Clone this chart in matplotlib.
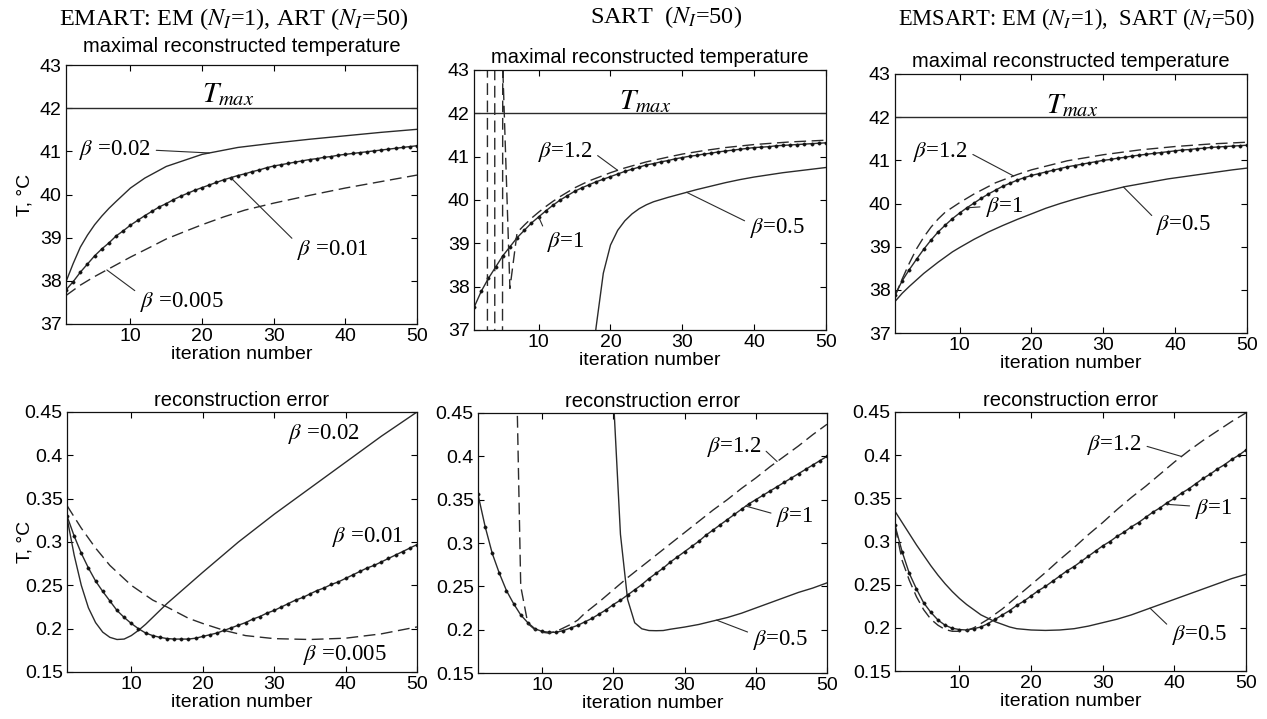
import numpy as np
import matplotlib
matplotlib.use("Agg")
import matplotlib.pyplot as plt

plt.rcParams['font.family'] = ['Liberation Sans', 'DejaVu Sans']
plt.rcParams['mathtext.fontset'] = 'stix'

# ---------------- data ----------------
it = np.arange(1, 51)
x_ticks = [10, 20, 30, 40, 50]
t_ticks = [37, 38, 39, 40, 41, 42, 43]
e_ticks = [0.15, 0.2, 0.25, 0.3, 0.35, 0.4, 0.45]
e_ticklabels = ['0.15', '0.2', '0.25', '0.3', '0.35', '0.4', '0.45']
T_max = 42

col_titles = ['EMART: EM ($N_I$=1), ART ($N_I$=50)',
              'SART  ($N_I$=50)',
              'EMSART: EM ($N_I$=1),  SART ($N_I$=50)']
top_title = 'maximal reconstructed temperature'
bot_title = 'reconstruction error'

# EMART, max temperature
tl_b001 = [37.79, 37.98, 38.20, 38.39, 38.58, 38.74, 38.88, 39.04, 39.16, 39.29,
           39.40, 39.51, 39.61, 39.71, 39.79, 39.88, 39.96, 40.03, 40.10, 40.16,
           40.22, 40.28, 40.34, 40.39, 40.44, 40.48, 40.53, 40.57, 40.62, 40.66,
           40.69, 40.72, 40.75, 40.78, 40.81, 40.83, 40.86, 40.88, 40.91, 40.93,
           40.95, 40.97, 40.99, 41.01, 41.03, 41.05, 41.07, 41.09, 41.11, 41.13]
tl_b002_x = [1, 2, 3, 4, 5, 6, 7, 8, 10, 12, 15, 20, 25, 30, 35, 40, 45, 50]
tl_b002 = [37.98, 38.40, 38.78, 39.06, 39.30, 39.50, 39.68, 39.84, 40.15, 40.38,
           40.65, 40.93, 41.09, 41.19, 41.28, 41.36, 41.44, 41.51]
tl_b0005_x = [1, 3, 5, 7, 10, 13, 15, 18, 20, 23, 26, 30, 35, 40, 45, 50]
tl_b0005 = [37.66, 37.90, 38.10, 38.28, 38.55, 38.80, 38.97, 39.17, 39.30, 39.48,
            39.64, 39.80, 39.98, 40.15, 40.30, 40.45]

# SART, max temperature
tm_b1 = [37.52, 37.89, 38.19, 38.45, 38.71, 38.92, 39.13, 39.30, 39.47, 39.61,
         39.75, 39.88, 40.00, 40.10, 40.20, 40.28, 40.35, 40.42, 40.48, 40.54,
         40.60, 40.66, 40.71, 40.76, 40.81, 40.84, 40.88, 40.91, 40.95, 40.98,
         41.01, 41.03, 41.06, 41.08, 41.11, 41.13, 41.15, 41.17, 41.19, 41.21,
         41.22, 41.23, 41.25, 41.26, 41.27, 41.28, 41.29, 41.30, 41.31, 41.32]
tm_b12_x = [1, 2, 3, 4, 5, 6, 7, 8, 9, 10, 11, 12, 13, 14, 15, 17, 20, 22, 25, 28,
            30, 33, 36, 40, 45, 50]
tm_b12 = [37.52, -10250, 1577, -150, 43.1, 37.96, 39.25, 39.42, 39.58, 39.72,
          39.85, 39.97, 40.08, 40.18, 40.28, 40.44, 40.63, 40.74, 40.88, 40.99,
          41.06, 41.14, 41.21, 41.28, 41.34, 41.38]
tm_b05_x = [17, 18, 19, 20, 21, 22, 23, 24, 25, 26, 28, 30, 32, 34, 36, 38, 40, 42,
            44, 46, 48, 50]
tm_b05 = [35.6, 37.07, 38.31, 38.96, 39.30, 39.52, 39.68, 39.80, 39.89, 39.96,
          40.06, 40.15, 40.24, 40.32, 40.40, 40.47, 40.53, 40.58, 40.63, 40.67,
          40.71, 40.75]

# EMSART, max temperature
tr_b1 = [37.88, 38.21, 38.47, 38.71, 38.94, 39.15, 39.34, 39.50, 39.65, 39.78,
         39.90, 40.01, 40.12, 40.22, 40.31, 40.40, 40.47, 40.54, 40.60, 40.65,
         40.69, 40.73, 40.77, 40.81, 40.85, 40.88, 40.91, 40.94, 40.97, 41.00,
         41.02, 41.05, 41.07, 41.10, 41.12, 41.14, 41.16, 41.18, 41.20, 41.22,
         41.24, 41.25, 41.27, 41.28, 41.30, 41.31, 41.32, 41.33, 41.34, 41.35]
tr_b12_x = [1, 2, 3, 4, 5, 6, 7, 8, 10, 12, 15, 18, 20, 25, 30, 35, 40, 45, 50]
tr_b12 = [37.85, 38.25, 38.62, 38.95, 39.22, 39.45, 39.64, 39.80, 40.02, 40.22,
          40.48, 40.67, 40.78, 40.99, 41.13, 41.24, 41.32, 41.38, 41.42]
tr_b05_x = [1, 2, 3, 4, 5, 6, 7, 8, 9, 10, 12, 14, 16, 18, 20, 22, 24, 26, 28, 30,
            33, 36, 39, 42, 45, 48, 50]
tr_b05 = [37.73, 37.92, 38.08, 38.23, 38.38, 38.51, 38.64, 38.76, 38.88, 38.98,
          39.17, 39.34, 39.49, 39.63, 39.76, 39.89, 40.00, 40.10, 40.19, 40.27,
          40.39, 40.48, 40.57, 40.64, 40.71, 40.78, 40.82]

# EMART, reconstruction error
bl_b001 = [0.330, 0.307, 0.287, 0.270, 0.255, 0.243, 0.232, 0.221, 0.213, 0.206,
           0.200, 0.195, 0.192, 0.190, 0.1886, 0.188, 0.188, 0.188, 0.189, 0.191,
           0.193, 0.195, 0.198, 0.201, 0.204, 0.207, 0.211, 0.214, 0.218, 0.221,
           0.225, 0.229, 0.233, 0.236, 0.240, 0.244, 0.247, 0.251, 0.254, 0.258,
           0.262, 0.266, 0.270, 0.273, 0.277, 0.281, 0.285, 0.289, 0.293, 0.297]
bl_b002_x = [1, 2, 3, 4, 5, 6, 7, 8, 9, 10, 11, 12, 13, 14, 15, 20, 25, 30, 35, 40,
             45, 50]
bl_b002 = [0.328, 0.285, 0.250, 0.224, 0.207, 0.196, 0.190, 0.1875, 0.188, 0.192,
           0.198, 0.205, 0.213, 0.221, 0.229, 0.265, 0.300, 0.332, 0.362, 0.392,
           0.422, 0.450]
bl_b0005_x = [1, 3, 5, 7, 10, 13, 15, 18, 20, 23, 26, 30, 35, 40, 45, 50]
bl_b0005 = [0.342, 0.316, 0.293, 0.273, 0.250, 0.233, 0.225, 0.212, 0.206, 0.198,
            0.192, 0.1885, 0.1875, 0.189, 0.194, 0.202]

# SART, reconstruction error
bm_b1 = [0.356, 0.319, 0.288, 0.265, 0.245, 0.230, 0.217, 0.208, 0.201, 0.198,
         0.197, 0.197, 0.199, 0.202, 0.205, 0.209, 0.213, 0.218, 0.223, 0.229,
         0.234, 0.240, 0.246, 0.252, 0.259, 0.265, 0.271, 0.278, 0.284, 0.290,
         0.296, 0.302, 0.309, 0.315, 0.321, 0.327, 0.333, 0.339, 0.345, 0.350,
         0.355, 0.360, 0.365, 0.370, 0.375, 0.380, 0.385, 0.390, 0.395, 0.400]
bm_b12_x = [6, 7, 8, 9, 10, 11, 12, 13, 14, 15, 16, 18, 20, 22, 24, 26, 28, 30, 32,
            34, 36, 38, 40, 42, 44, 46, 48, 50]
bm_b12 = [0.667, 0.25, 0.207, 0.200, 0.197, 0.196, 0.198, 0.202, 0.206, 0.211,
          0.219, 0.232, 0.246, 0.260, 0.273, 0.286, 0.299, 0.312, 0.325, 0.338,
          0.350, 0.363, 0.375, 0.388, 0.400, 0.412, 0.425, 0.437]
bm_b05_x = [20, 21, 22, 23, 24, 25, 26, 27, 28, 30, 32, 34, 36, 38, 40, 42, 44, 46,
            48, 50]
bm_b05 = [0.47, 0.31, 0.235, 0.208, 0.201, 0.199, 0.1988, 0.199, 0.2005, 0.203,
          0.206, 0.210, 0.214, 0.219, 0.225, 0.231, 0.237, 0.243, 0.248, 0.254]

# EMSART, reconstruction error
br_b1 = [0.3186, 0.288, 0.263, 0.245, 0.229, 0.218, 0.209, 0.203, 0.1995, 0.198,
         0.1975, 0.199, 0.201, 0.205, 0.210, 0.215, 0.220, 0.226, 0.231, 0.237,
         0.243, 0.248, 0.254, 0.260, 0.266, 0.271, 0.277, 0.283, 0.289, 0.295,
         0.300, 0.306, 0.311, 0.317, 0.322, 0.328, 0.334, 0.339, 0.345, 0.350,
         0.356, 0.361, 0.367, 0.373, 0.378, 0.384, 0.389, 0.395, 0.400, 0.406]
br_b12_x = [1, 2, 3, 4, 5, 6, 7, 8, 9, 10, 11, 12, 14, 16, 18, 20, 22, 24, 26, 28,
            30, 32, 34, 36, 38, 40, 42, 44, 46, 48, 50]
br_b12 = [0.318, 0.278, 0.255, 0.236, 0.221, 0.210, 0.203, 0.198, 0.196, 0.196,
          0.197, 0.200, 0.210, 0.222, 0.236, 0.250, 0.264, 0.279, 0.293, 0.308,
          0.322, 0.337, 0.351, 0.364, 0.378, 0.392, 0.405, 0.417, 0.428, 0.439,
          0.449]
br_b05_x = list(range(1, 19)) + [20, 22, 24, 26, 28, 30, 32, 34, 36, 38, 40, 42,
                                 44, 46, 48, 50]
br_b05 = [0.335, 0.322, 0.309, 0.296, 0.284, 0.272, 0.261, 0.251, 0.242, 0.234,
          0.227, 0.221, 0.215, 0.211, 0.207, 0.204, 0.201, 0.199, 0.1975, 0.197,
          0.1975, 0.199, 0.202, 0.206, 0.210, 0.215, 0.221, 0.227, 0.233, 0.239,
          0.245, 0.251, 0.257, 0.262]

# ---------------- figure ----------------
W, H = 1267, 719
fig = plt.figure(figsize=(W / 100, H / 100), dpi=100)
fig.patch.set_facecolor('white')

LC = '#2b2b2b'
LW = 1.0
DASH = (0, (8.5, 4))
SERIF = 'Liberation Serif'
BFS = 16.5


def axes_px(l, t, r, b):
    return fig.add_axes([l / W, 1 - b / H, (r - l) / W, (b - t) / H])


def style(ax, top):
    ax.set_xlim(1, 50)
    ax.set_xticks(x_ticks)
    if top:
        ax.set_ylim(37, 43)
        ax.set_yticks(t_ticks)
    else:
        ax.set_ylim(0.15, 0.45)
        ax.set_yticks(e_ticks)
        ax.set_yticklabels(e_ticklabels)
    ax.tick_params(direction='in', top=True, right=True, length=4.5,
                   width=0.8, labelsize=14, pad=3)
    for s in ax.spines.values():
        s.set_linewidth(0.9)
        s.set_color('#111111')
    ax.set_xlabel('iteration number', fontsize=14, labelpad=0.5)


def ylab(ax, right_px, l_px, w_px):
    ax.set_ylabel('T, °C', fontsize=14)
    ax.yaxis.set_label_coords((right_px - l_px) / w_px, 0.5)


def solid(ax, x, y):
    ax.plot(x, y, '-', color=LC, lw=LW)


def dashed(ax, x, y):
    ax.plot(x, y, linestyle=DASH, color=LC, lw=LW)


def dotted(ax, x, y):
    ax.plot(x, y, '-', color=LC, lw=LW, marker='o', ms=2.4,
            mfc='#111111', mec='#111111', mew=0.3)


def label(ax, txt, xt, yt, xy=None, rel=(0, 0.5)):
    if xy is None:
        ax.text(xt, yt, txt, ha='left', va='center', fontsize=BFS, family=SERIF)
    else:
        ax.annotate(txt, xy=xy, xytext=(xt, yt), ha='left', va='center',
                    fontsize=BFS, family=SERIF,
                    arrowprops=dict(arrowstyle='-', color=LC, lw=0.8,
                                    shrinkA=2, shrinkB=0, relpos=rel))


def tmax(ax, xc, yc):
    ax.axhline(T_max, color=LC, lw=LW)
    ax.text(xc, yc, r'$T_{max}$', ha='center', va='center', fontsize=21)


# ---- top left
ax = axes_px(66, 65, 417, 324)
style(ax, True)
tmax(ax, 23.6, 42.33)
solid(ax, tl_b002_x, tl_b002)
dotted(ax, it, tl_b001)
dashed(ax, tl_b0005_x, tl_b0005)
ylab(ax, 33, 66, 351)
ax.set_title(top_title, fontsize=14.5, pad=9)
label(ax, r'$\beta$ =0.02', 2.8, 41.03, (21, np.interp(21, tl_b002_x, tl_b002)), rel=(1, 0.5))
label(ax, r'$\beta$ =0.01', 33.2, 38.71, (24, tl_b001[23]), rel=(0, 0.8))
label(ax, r'$\beta$ =0.005', 11.3, 37.52, (6.7, np.interp(6.7, tl_b0005_x, tl_b0005)), rel=(0, 0.8))

# ---- top middle
ax = axes_px(474, 70, 826, 330)
style(ax, True)
tmax(ax, 24.8, 42.28)
solid(ax, tm_b05_x, tm_b05)
dotted(ax, it, tm_b1)
dashed(ax, tm_b12_x, tm_b12)
ax.set_title(top_title, fontsize=14.5, pad=5)
label(ax, r'$\beta$=1.2', 9.9, 41.11, (21, np.interp(21, tm_b12_x, tm_b12)), rel=(1, 0.5))
label(ax, r'$\beta$=1', 11.1, 39.03, (10, tm_b1[9]), rel=(0, 0.8))
label(ax, r'$\beta$=0.5', 39.4, 39.35, (30.6, np.interp(30.6, tm_b05_x, tm_b05)), rel=(0, 0.7))

# ---- top right
ax = axes_px(895, 74, 1247, 333)
style(ax, True)
tmax(ax, 25.6, 42.27)
solid(ax, tr_b05_x, tr_b05)
dotted(ax, it, tr_b1)
dashed(ax, tr_b12_x, tr_b12)
ax.set_title(top_title, fontsize=14.5, pad=5)
label(ax, r'$\beta$=1.2', 3.5, 41.2, (17.5, np.interp(17.5, tr_b12_x, tr_b12)), rel=(1, 0.5))
label(ax, r'$\beta$=1', 13.6, 39.93, (11, tr_b1[10]), rel=(0, 0.5))
label(ax, r'$\beta$=0.5', 37.4, 39.50, (32.8, np.interp(32.8, tr_b05_x, tr_b05)), rel=(0, 0.7))

# ---- bottom left
ax = axes_px(67, 412, 417, 672)
style(ax, False)
solid(ax, bl_b002_x, bl_b002)
dotted(ax, it, bl_b001)
dashed(ax, bl_b0005_x, bl_b0005)
ylab(ax, 33, 67, 350)
ax.set_title(bot_title, fontsize=14.5, pad=4)
label(ax, r'$\beta$ =0.02', 31.9, 0.425)
label(ax, r'$\beta$ =0.01', 38.05, 0.306)
label(ax, r'$\beta$ =0.005', 34.1, 0.1696)

# ---- bottom middle
ax = axes_px(478, 413, 827, 673)
style(ax, False)
solid(ax, bm_b05_x, bm_b05)
dotted(ax, it, bm_b1)
dashed(ax, bm_b12_x, bm_b12)
ax.set_title(bot_title, fontsize=14.5, pad=4)
label(ax, r'$\beta$=1.2', 33.1, 0.411, (43, np.interp(43, bm_b12_x, bm_b12)), rel=(1, 0.5))
label(ax, r'$\beta$=1', 42.9, 0.330, (38.6, np.interp(38.6, it, bm_b1)), rel=(0, 0.6))
label(ax, r'$\beta$=0.5', 39.6, 0.188, (34.5, np.interp(34.5, bm_b05_x, bm_b05)), rel=(0, 0.75))

# ---- bottom right
ax = axes_px(895, 412, 1246, 671)
style(ax, False)
solid(ax, br_b05_x, br_b05)
dotted(ax, it, br_b1)
dashed(ax, br_b12_x, br_b12)
ax.set_title(bot_title, fontsize=14.5, pad=4)
label(ax, r'$\beta$=1.2', 27.8, 0.412, (41, np.interp(41, br_b12_x, br_b12)), rel=(1, 0.5))
label(ax, r'$\beta$=1', 42.9, 0.338, (38.7, np.interp(38.7, it, br_b1)), rel=(0, 0.6))
label(ax, r'$\beta$=0.5', 39.6, 0.192, (36.6, np.interp(36.6, br_b05_x, br_b05)), rel=(0, 0.75))

# ---- column headers
for (xc, yc, fs), t in zip([(234, 19, 17.5), (666, 17, 17.5), (1077, 19, 16.3)],
                           col_titles):
    fig.text(xc / W, 1 - yc / H, t, ha='center', va='center', fontsize=fs,
             family=SERIF)

fig.savefig('out.png', dpi=100, facecolor='white')
